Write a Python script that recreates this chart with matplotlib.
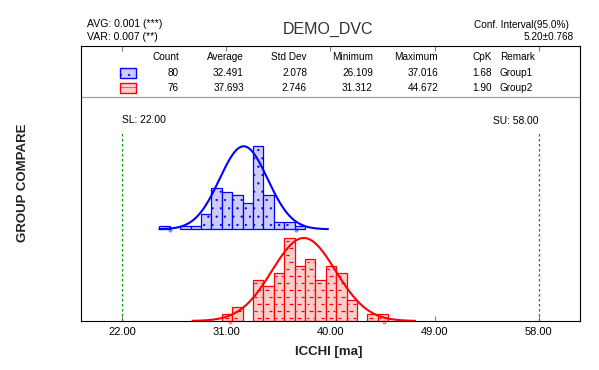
import numpy as np
import matplotlib.pyplot as plt
from matplotlib.patches import Rectangle

plt.rcParams['font.family'] = ['Liberation Sans', 'DejaVu Sans']
plt.rcParams['hatch.linewidth'] = 0.4

W, H = 599, 370

# ==================== data ====================
bin_width = 0.9
g1_first_edge = 25.2
g1_counts = [1, 0, 1, 1, 4, 11, 10, 9, 7, 22, 9, 2, 2, 1]
g2_first_edge = 30.6
g2_counts = [1, 2, 0, 6, 5, 7, 12, 8, 9, 6, 8, 7, 3, 0, 1, 1]

groups = ['Group1', 'Group2']
count = [80, 76]
average = [32.491, 37.693]
std_dev = [2.078, 2.746]
minimum = [26.109, 31.312]
maximum = [37.016, 44.672]
cpk = [1.68, 1.90]

lsl, usl = 22.0, 58.0
x_ticks = [22, 31, 40, 49, 58]

title = 'DEMO_DVC'
avg_text = 'AVG: 0.001 (***)'
var_text = 'VAR: 0.007 (**)'
conf_text = 'Conf. Interval(95.0%)'
conf_value = '5.20±0.768'

# ==================== style ====================
edge_colors = ['#0000ff', '#ff0000']
fill_colors = ['#ccccff', '#ffcccc']
bases = [91.7, 0.0]      # baseline of each group (px above box bottom)
peak = 83.0              # height of tallest bar / curve peak (px)


def fx(x):
    return x / W


def fy(y):
    return 1 - y / H


fig = plt.figure(figsize=(W / 100, H / 100), dpi=100)
box_l, box_r, box_t, box_b = 81, 580, 45.7, 321
ax = fig.add_axes([fx(box_l), fy(box_b), (box_r - box_l) / W, (box_b - box_t) / H])
px_per_unit = 11.564
xmin = lsl - (122.3 - box_l) / px_per_unit
xmax = usl + (box_r - 538.6) / px_per_unit
ax.set_xlim(xmin, xmax)
ax.set_ylim(0, box_b - box_t)


def brick_dashes(x0, x1, y0, y1, to_x):
    # short horizontal dashes in a brick layout, inside a rectangle (px space)
    segs = []
    k = 0
    y = y0 + 3.5
    while y < y1 - 2:
        off = 0 if k % 2 == 0 else 4
        xs = np.floor((x0 - off) / 8) * 8 + off
        while xs < x1:
            a, b = max(xs, x0 + 1.5), min(xs + 4, x1 - 1.5)
            if b > a:
                segs.append(((to_x(a), y), (to_x(b), y)))
            xs += 8
        y += 7
        k += 1
    return segs


for i, (first, counts) in enumerate([(g1_first_edge, g1_counts), (g2_first_edge, g2_counts)]):
    counts = np.array(counts, dtype=float)
    edges = first + bin_width * np.arange(len(counts))
    keep = counts > 0
    heights = counts / counts.max() * peak
    ax.bar(edges[keep], heights[keep], width=bin_width, bottom=bases[i], align='edge',
           color=fill_colors[i], edgecolor=edge_colors[i], linewidth=0.9,
           hatch='..' if i == 0 else None, zorder=2)
    if i == 1:
        segs = []
        for e, h in zip(edges[keep], heights[keep]):
            p0 = (e - xmin) * px_per_unit
            p1 = (e + bin_width - xmin) * px_per_unit
            segs += brick_dashes(p0, p1, bases[i], bases[i] + h,
                                 lambda p: xmin + p / px_per_unit)
        for s in segs:
            ax.plot([s[0][0], s[1][0]], [s[0][1], s[1][1]], color=edge_colors[i],
                    lw=0.9, zorder=3, solid_capstyle='butt')
    # fitted normal curve
    xs = np.linspace(average[i] - 3.5 * std_dev[i], average[i] + 3.5 * std_dev[i], 300)
    ys = bases[i] + peak * np.exp(-0.5 * ((xs - average[i]) / std_dev[i]) ** 2)
    ax.plot(xs, ys, color=edge_colors[i], lw=1.5, zorder=4)
    ax.plot([minimum[i], maximum[i]], [bases[i] - 1, bases[i] - 1], 'o', ms=3,
            color=edge_colors[i], alpha=0.45, mec='none', zorder=4, clip_on=False)

# spec limits
for v in (lsl, usl):
    ax.vlines(v, 0, box_b - 133.3, colors='#00a000', linestyles=(0, (2, 2)), lw=0.9, zorder=5)
ax.text(lsl, box_b - 120, 'SL: %.2f' % lsl, ha='left', va='center', fontsize=7.4)
ax.text(usl, box_b - 121, 'SU: %.2f' % usl, ha='right', va='center', fontsize=7.4)

# table separator
ax.axhline(box_b - 97.3, color='#a0a0a0', lw=0.9)

ax.set_xticks(x_ticks)
ax.set_xticklabels(['%.2f' % t for t in x_ticks])
ax.set_yticks([])
ax.tick_params(axis='x', direction='in', top=True, length=3.5, color='#808080',
               labelsize=8, pad=4)
for sp in ax.spines.values():
    sp.set_color('black')
    sp.set_linewidth(0.8)

# ==================== table ====================
tfs = 7.2
right_cols = [179, 244, 307, 373, 438, 492]
headers = ['Count', 'Average', 'Std Dev', 'Minimum', 'Maximum', 'CpK']
for xr, hd in zip(right_cols, headers):
    fig.text(fx(xr), fy(57.3), hd, ha='right', va='center', fontsize=tfs)
fig.text(fx(500), fy(57.3), 'Remark', ha='left', va='center', fontsize=tfs)
row_y = [72.7, 88.3]
for i in range(2):
    vals = ['%d' % count[i], '%.3f' % average[i], '%.3f' % std_dev[i],
            '%.3f' % minimum[i], '%.3f' % maximum[i], '%.2f' % cpk[i]]
    for xr, v in zip(right_cols, vals):
        fig.text(fx(xr), fy(row_y[i]), v, ha='right', va='center', fontsize=tfs)
    fig.text(fx(500), fy(row_y[i]), groups[i], ha='left', va='center', fontsize=tfs)
    y_top = row_y[i] - 5
    fig.add_artist(Rectangle((fx(120), fy(y_top + 10)), 16 / W, 10 / H, transform=fig.transFigure,
                             facecolor=fill_colors[i], edgecolor=edge_colors[i], lw=1.0,
                             hatch='..' if i == 0 else '--'))

# ==================== header texts ====================
fig.text(fx(86.7), fy(24.3), avg_text, ha='left', va='center', fontsize=7.6)
fig.text(fx(86.7), fy(36.7), var_text, ha='left', va='center', fontsize=7.6)
fig.text(fx(328.5), fy(29.5), title, ha='center', va='center', fontsize=11.5, color='#333333')
fig.text(fx(569.3), fy(25), conf_text, ha='right', va='center', fontsize=tfs)
fig.text(fx(574), fy(36.7), conf_value, ha='right', va='center', fontsize=tfs)

fig.text(fx(329), fy(351.7), 'ICCHI [ma]', ha='center', va='center', fontsize=9.5,
         fontweight='bold', color='#222222')
fig.text(fx(23), fy(182.5), 'GROUP COMPARE', ha='center', va='center', fontsize=9.5,
         fontweight='bold', rotation=90, color='#222222')

fig.savefig('out.png', dpi=100)
